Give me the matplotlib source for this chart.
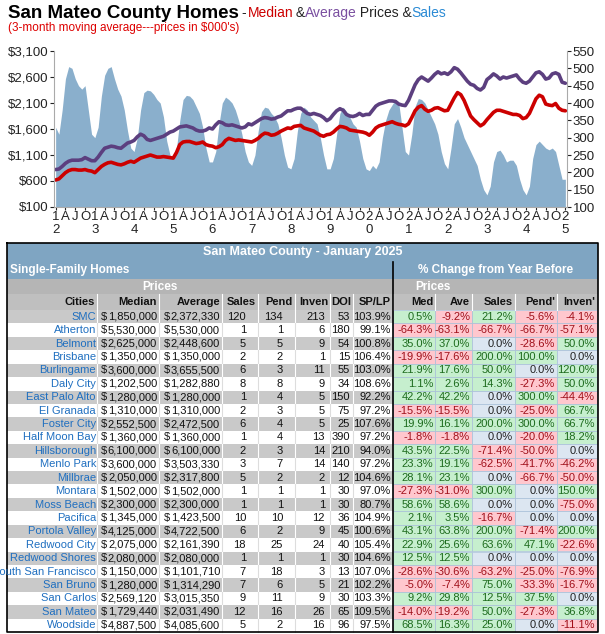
import matplotlib
matplotlib.use("Agg")
import matplotlib.pyplot as plt
import numpy as np
import pandas as pd
from matplotlib.patches import Rectangle
from matplotlib.textpath import TextPath
from matplotlib.font_manager import FontProperties

plt.rcParams['font.family'] = ['Liberation Sans', 'DejaVu Sans']

sales = [330,310,380,470,505,500,470,450,440,450,380,310,
         300,330,420,480,500,505,470,440,420,380,320,270,
         260,300,380,430,437,435,425,410,400,360,290,250,
         240,270,350,410,422,420,410,390,370,330,270,230,
         230,260,340,400,417,410,400,380,350,310,260,230,
         220,250,320,375,388,385,370,360,340,300,250,215,
         210,240,320,370,388,380,360,350,340,300,250,210,
         210,240,310,370,388,375,360,340,330,290,240,210,
         205,220,210,230,300,350,380,395,410,400,330,260,
         250,310,390,413,410,400,380,360,340,310,260,225,
         210,270,340,355,330,300,280,260,240,220,180,150,
         135,160,230,260,264,250,230,235,235,220,180,150,
         135,160,240,280,290,280,270,265,270,260,220,180,
         180]
median = [620,640,700,760,800,820,820,810,810,820,800,790,
          760,820,880,920,950,960,940,920,910,930,960,980,
          960,1000,1040,1060,1080,1100,1080,1060,1060,1070,1060,1050,
          1040,1150,1300,1350,1360,1360,1340,1320,1330,1350,1300,1280,
          1270,1240,1260,1300,1380,1420,1400,1380,1390,1380,1370,1360,
          1350,1380,1420,1480,1520,1510,1480,1490,1520,1560,1590,1620,
          1610,1650,1660,1670,1620,1600,1580,1560,1520,1480,1460,1490,
          1500,1540,1600,1650,1640,1620,1580,1570,1560,1550,1540,1520,
          1480,1540,1620,1660,1680,1700,1720,1740,1710,1690,1680,1660,
          1700,1820,1950,2020,2050,1980,1940,1960,2000,2010,1980,1950,
          1960,2080,2200,2300,2260,2150,2000,1850,1780,1720,1660,1700,
          1780,1850,1920,1960,1960,1940,1920,1900,1880,1880,1860,1800,
          1820,1900,2040,2180,2250,2220,2080,2060,2050,2090,2000,1960,
          1950]
average = [820,830,880,940,980,1000,1000,1000,1010,1050,1020,990,
           990,1060,1150,1230,1250,1270,1260,1240,1230,1280,1330,1350,
           1380,1450,1500,1470,1400,1380,1400,1420,1440,1460,1500,1540,
           1560,1600,1640,1650,1660,1640,1620,1580,1560,1560,1580,1620,
           1600,1680,1740,1720,1680,1670,1680,1660,1640,1620,1640,1700,
           1680,1720,1760,1800,1820,1810,1790,1800,1830,1850,1900,1950,
           1950,1980,2000,2000,1950,1900,1880,1900,1880,1860,1820,1760,
           1800,1880,1950,1990,1960,1880,1850,1840,1860,1900,1860,1880,
           1880,1960,2040,2080,2100,2120,2140,2140,2130,2080,2060,2050,
           2150,2300,2450,2550,2600,2560,2520,2580,2650,2700,2660,2680,
           2650,2700,2780,2750,2680,2600,2520,2460,2440,2380,2350,2400,
           2550,2600,2660,2620,2560,2600,2580,2600,2620,2640,2560,2500,
           2480,2520,2600,2680,2700,2650,2560,2580,2660,2680,2650,2500,
           2480]

left_ticks = [100, 600, 1100, 1600, 2100, 2600, 3100]
right_ticks = [100,150,200,250,300,350,400,450,500,550]

cities = ["SMC","Atherton","Belmont","Brisbane","Burlingame","Daly City","East Palo Alto",
          "El Granada","Foster City","Half Moon Bay","Hillsborough","Menlo Park","Millbrae",
          "Montara","Moss Beach","Pacifica","Portola Valley","Redwood City","Redwood Shores",
          "South San Francisco","San Bruno","San Carlos","San Mateo","Woodside"]
t_median = ["1,850,000","5,530,000","2,625,000","1,350,000","3,600,000","1,202,500","1,280,000",
            "1,310,000","2,552,500","1,360,000","6,100,000","3,600,000","2,050,000","1,502,000",
            "2,300,000","1,345,000","4,125,000","2,075,000","2,080,000","1,150,000","1,280,000",
            "2,569,120","1,729,440","4,887,500"]
t_average = ["2,372,330","5,530,000","2,448,600","1,350,000","3,655,500","1,282,880","1,280,000",
             "1,310,000","2,472,500","1,360,000","6,100,000","3,503,330","2,317,800","1,502,000",
             "2,300,000","1,423,500","4,722,500","2,161,390","2,080,000","1,101,710","1,314,290",
             "3,015,350","2,031,490","4,085,600"]
t_sales = [120,1,5,2,6,8,1,2,6,1,2,3,5,1,1,10,6,18,1,7,7,9,12,5]
t_pend = [134,1,5,2,3,8,4,3,4,4,3,7,2,1,1,10,2,25,1,18,6,11,16,2]
t_inven = [213,6,9,1,11,9,5,5,5,13,14,14,2,1,1,12,9,24,1,3,5,9,26,16]
t_doi = [53,180,54,15,55,34,150,75,25,390,210,140,12,30,30,36,45,40,30,13,21,30,65,96]
t_splp = ["103.9%","99.1%","100.8%","106.4%","103.0%","108.6%","92.2%","97.2%","107.6%","97.2%",
          "94.0%","97.2%","104.6%","97.0%","80.7%","104.9%","100.6%","105.4%","104.6%","107.0%",
          "102.2%","103.3%","109.5%","97.5%"]
c_med = ["0.5%","-64.3%","35.0%","-19.9%","21.9%","1.1%","42.2%","-15.5%","19.9%","-1.8%",
         "43.5%","23.3%","28.1%","-27.3%","58.6%","2.1%","43.1%","22.9%","12.5%","-28.6%",
         "-5.0%","9.2%","-14.0%","68.5%"]
c_ave = ["-9.2%","-63.1%","37.0%","-17.6%","17.6%","2.6%","42.2%","-15.5%","16.1%","-1.8%",
         "22.5%","19.1%","23.1%","-31.0%","58.6%","3.5%","63.8%","25.6%","12.5%","-30.6%",
         "-7.4%","29.8%","-19.2%","16.3%"]
c_sales = ["21.2%","-66.7%","0.0%","200.0%","50.0%","14.3%","0.0%","0.0%","200.0%","0.0%",
           "-71.4%","-62.5%","0.0%","300.0%","0.0%","-16.7%","200.0%","63.6%","0.0%","-63.2%",
           "75.0%","12.5%","50.0%","25.0%"]
c_pend = ["-5.6%","-66.7%","-28.6%","100.0%","0.0%","-27.3%","300.0%","-25.0%","300.0%","-20.0%",
          "-50.0%","-41.7%","-66.7%","0.0%","0.0%","0.0%","-71.4%","47.1%","0.0%","-25.0%",
          "-33.3%","37.5%","-27.3%","0.0%"]
c_inven = ["-4.1%","-57.1%","50.0%","0.0%","120.0%","50.0%","-44.4%","66.7%","66.7%","18.2%",
           "0.0%","-46.2%","-50.0%","150.0%","-75.0%","0.0%","200.0%","-22.6%","0.0%","-76.9%",
           "-16.7%","0.0%","36.8%","-11.1%"]

W, H = 605, 634
fig = plt.figure(figsize=(W/100, H/100), dpi=100)

# ---- chart ----
dates = pd.date_range("2012-01-01", periods=len(sales), freq="MS")
xs = np.arange(len(sales))
ax = fig.add_axes([54/W, 1-207/H, (567-54)/W, (207-51)/H])
ax2 = ax.twinx()
ax.set_zorder(ax2.get_zorder()+1); ax.patch.set_visible(False)
ax2.fill_between(xs, 100, sales, color="#8aafcc", lw=0)
ax2.set_ylim(100, 550); ax2.set_yticks(right_ticks)
ax.plot(xs, average, color="#5c3f7f", lw=2.6, solid_capstyle='round')
ax.plot(xs, median, color="#cc0000", lw=2.6, solid_capstyle='round')
ax.set_ylim(100, 3100); ax.set_yticks(left_ticks)
ax.set_yticklabels([f"${v:,}" for v in left_ticks])
ax.set_xlim(-0.5, len(sales)-0.5)
qt = xs[::3]
labs = []
for i in qt:
    d = dates[i]
    if d.month == 1:
        s = f"{d.year % 100:02d}"
        labs.append(s[0] + "\n" + s[1])
    else:
        labs.append({4: "A", 7: "J", 10: "O"}[d.month])
ax.set_xticks(qt); ax.set_xticklabels(labs, linespacing=1.05, va='top')
for a in (ax, ax2):
    for s in a.spines.values():
        s.set_visible(False)
    a.tick_params(labelsize=9.5, colors="#222222", length=3, pad=1)
ax.spines['left'].set_visible(True); ax.spines['left'].set_color("#aaaaaa")
ax2.spines['right'].set_visible(True); ax2.spines['right'].set_color("#aaaaaa")
ax.spines['bottom'].set_visible(True); ax.spines['bottom'].set_color("#aaaaaa")
ax.tick_params(axis='x', length=2, labelsize=9.5, pad=1)

title = "San Mateo County Homes"
fig.text(8/W, 1-13/H, title, fontsize=13.5, fontweight='bold', va='center')
fpb = FontProperties(family='Liberation Sans', size=13.5, weight='bold')
xt = 8 + TextPath((0, 0), title, prop=fpb).get_extents().width * 100/72 + 4
parts = [("- ", "#222222"), ("Median", "#cc0000"), (" & ", "#222222"), ("Average", "#7a4fa0"),
         (" Prices & ", "#222222"), ("Sales", "#2a8ad4")]
fp = FontProperties(family='Liberation Sans', size=10)
for t, c in parts:
    fig.text(xt/W, 1-13/H, t, fontsize=10, color=c, va='center')
    w = TextPath((0, 0), t.replace(" ", "i"), prop=fp).get_extents().width * 100/72
    xt += w
fig.text(8/W, 1-28/H, "(3-month moving average---prices in $000's)", fontsize=8.5, color="#dd0000", va='center')

# ---- table ----
tx = fig.add_axes([0, 0, 1, 1]); tx.set_xlim(0, W); tx.set_ylim(H, 0); tx.axis('off')
L, R, MID = 7, 598, 393
blue = "#7fa5c2"; gray = "#c9c9c9"; hdr = "#bfbfbf"
tx.add_patch(Rectangle((L, 243), R-L, 19, fc=blue, ec='none'))
tx.text((L+R)/2, 252.5, "San Mateo County - January 2025", ha='center', va='center', color='white', fontsize=9, fontweight='bold')
tx.add_patch(Rectangle((L, 262), R-L, 17, fc=blue, ec='none'))
tx.text(10, 270.5, "Single-Family Homes", ha='left', va='center', color='white', fontsize=8.5, fontweight='bold')
tx.text((MID+R)/2, 270.5, "% Change from Year Before", ha='center', va='center', color='white', fontsize=8.5, fontweight='bold')
tx.add_patch(Rectangle((L, 279), R-L, 15, fc="#b5b5b5", ec='none'))
tx.text(160, 286.5, "Prices", ha='center', va='center', color='white', fontsize=8.5, fontweight='bold')
tx.text(433, 286.5, "Prices", ha='center', va='center', color='white', fontsize=8.5, fontweight='bold')
tx.add_patch(Rectangle((L, 294), R-L, 16, fc=hdr, ec='none'))
bounds = [L, 97, 159, 222, 258, 295, 330, 353, 393, 435, 472, 515, 557, 597]
heads = ["Cities", "Median", "Average", "Sales", "Pend", "Inven", "DOI", "SP/LP", "Med", "Ave", "Sales", "Pend'", "Inven'"]
for i, h in enumerate(heads):
    tx.text(bounds[i+1]-2, 302, h, ha='right', va='center', fontsize=8, fontweight='bold', color="#111111")
for b in bounds[1:-1]:
    tx.plot([b, b], [294, 310], color='white', lw=0.8)
top = 310; rh = (632-310)/len(cities)
for r in range(len(cities)):
    y0 = top + r*rh; yc = y0 + rh/2
    bg = gray if r % 2 == 0 else "white"
    tx.add_patch(Rectangle((L, y0), MID-L, rh, fc=bg, ec='none'))
    tx.text(96, yc, cities[r], ha='right', va='center', fontsize=8, color="#1f6fc0")
    tx.text(101, yc, "$", ha='left', va='center', fontsize=8, color="#111111")
    tx.text(157, yc, t_median[r], ha='right', va='center', fontsize=8, color="#111111")
    tx.text(164, yc, "$", ha='left', va='center', fontsize=8, color="#111111")
    tx.text(220, yc, t_average[r], ha='right', va='center', fontsize=8, color="#111111")
    for val, xr in zip([t_sales[r], t_pend[r], t_inven[r], t_doi[r], t_splp[r]], [246, 283, 325, 350, 391]):
        tx.text(xr, yc, str(val), ha='right', va='center', fontsize=8, color="#111111")
    for j, col in enumerate([c_med, c_ave, c_sales, c_pend, c_inven]):
        v = col[r]; num = float(v.strip('%'))
        if num > 0: fc, tc = "#c6efce", "#1d6b1d"
        elif num < 0: fc, tc = "#ffc7ce", "#a0101a"
        else: fc, tc = "#dce6f1", "#222222"
        x0, x1 = bounds[9+j-1], bounds[9+j]
        tx.add_patch(Rectangle((x0, y0), x1-x0, rh, fc=fc, ec="#a8bfd8", lw=0.5))
        tx.text(x1-2, yc, v, ha='right', va='center', fontsize=8, color=tc)
    for b in bounds[1:8]:
        tx.plot([b, b], [y0, y0+rh], color='white' if bg == gray else "#dddddd", lw=0.8)
tx.plot([L, R, R, L, L], [243, 243, 632, 632, 243], color='black', lw=1.2)
tx.plot([MID, MID], [262, 632], color='black', lw=1.2)

fig.savefig("out.png", dpi=100)
